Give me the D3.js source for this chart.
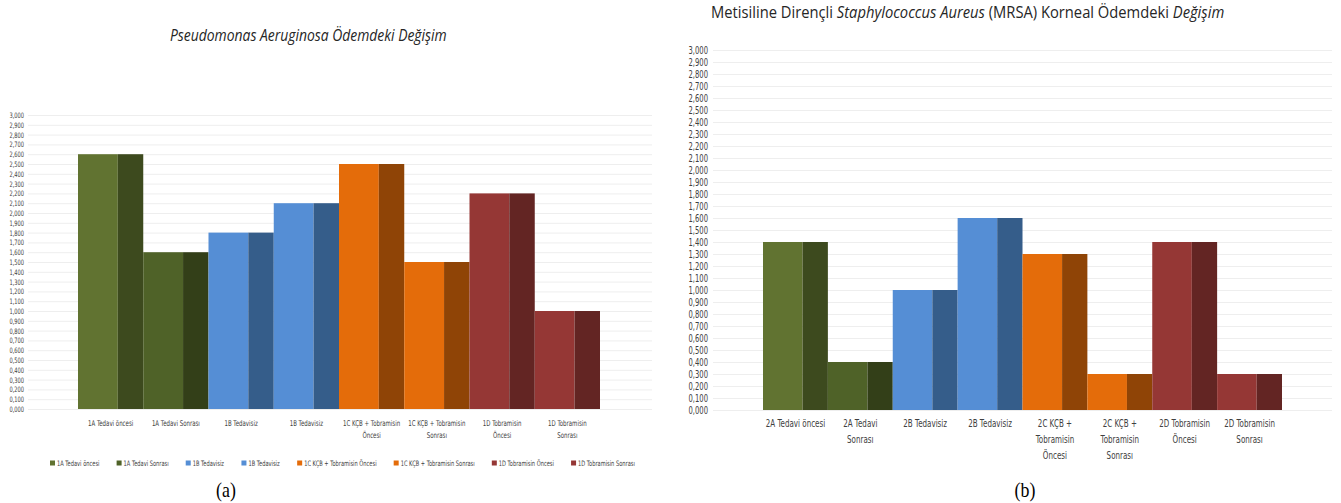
<!DOCTYPE html>
<html>
<head>
<meta charset="utf-8">
<script src="https://cdn.jsdelivr.net/npm/d3@7"></script>
<style>
  body { margin: 0; background: #fff; }
  svg { display: block; }
</style>
</head>
<body>
<svg id="chart"></svg>
<script>
// values (ödem, 0 - 3)
const leftCategories = [
  ['1A Tedavi öncesi'], ['1A Tedavi Sonrası'], ['1B Tedavisiz'], ['1B Tedavisiz'],
  ['1C KÇB + Tobramisin', 'Öncesi'], ['1C KÇB + Tobramisin', 'Sonrası'],
  ['1D Tobramisin', 'Öncesi'], ['1D Tobramisin', 'Sonrası']
];
const leftValues = [2.6, 1.6, 1.8, 2.1, 2.5, 1.5, 2.2, 1.0];
const leftLegend = [
  '1A Tedavi öncesi', '1A Tedavi Sonrası', '1B Tedavisiz', '1B Tedavisiz',
  '1C KÇB + Tobramisin Öncesi', '1C KÇB + Tobramisin Sonrası',
  '1D Tobramisin Öncesi', '1D Tobramisin Sonrası'
];

const rightCategories = [
  ['2A Tedavi öncesi'], ['2A Tedavi', 'Sonrası'], ['2B Tedavisiz'], ['2B Tedavisiz'],
  ['2C KÇB +', 'Tobramisin', 'Öncesi'], ['2C KÇB +', 'Tobramisin', 'Sonrası'],
  ['2D Tobramisin', 'Öncesi'], ['2D Tobramisin', 'Sonrası']
];
const rightValues = [1.4, 0.4, 1.0, 1.6, 1.3, 0.3, 1.4, 0.3];

const yTicks = d3.range(31).map((i) => i / 10);

const frontColors = ['#617331', '#4f6228', '#558ed5', '#558ed5', '#e46c0a', '#e46c0a', '#953735', '#953735'];
const sideColors = ['#3d4a1e', '#333f18', '#355d8a', '#355d8a', '#8f4406', '#8f4406', '#632523', '#632523'];

const width = 1341;
const height = 503;
const font = "'DejaVu Sans', sans-serif";
const squeeze = 0.68; // reference uses a narrow Calibri-like face

const svg = d3.select('#chart').attr('width', width).attr('height', height);
svg.append('rect').attr('width', width).attr('height', height).attr('fill', '#fff');

const fmt = (d) => d3.format('.3f')(d).replace('.', ',');

// horizontal squeeze around a given x
const scaleAt = (ax, k) => `translate(${ax},0) scale(${k},1) translate(${-ax},0)`;

function fitWidth(sel, target, anchorX) {
  const w = sel.node().getBBox().width;
  sel.attr('transform', scaleAt(anchorX, target / w));
}

function drawPanel(opt) {
  const g = svg.append('g');

  const y = d3.scaleLinear().domain([0, 3]).range([opt.y0, opt.y3]);
  const x = d3.scaleBand().domain(d3.range(opt.values.length)).range([opt.x0, opt.x1]).padding(0);

  // grid + y axis
  const axis = g.append('g')
    .attr('transform', `translate(${opt.gridX0},0)`)
    .call(d3.axisLeft(y).tickValues(yTicks).tickFormat(fmt)
      .tickSize(-(opt.gridX1 - opt.gridX0)).tickPadding(opt.tickPad));
  axis.select('.domain').remove();
  axis.selectAll('line').attr('stroke', '#eeeeee').attr('stroke-width', 1);
  axis.selectAll('text')
    .attr('font-family', font)
    .attr('font-size', opt.tickFont)
    .attr('fill', '#404040')
    .attr('transform', scaleAt(-opt.tickPad, squeeze));

  // front face and darker side face of each column
  const bars = g.selectAll('.bar').data(opt.values).enter().append('g');
  bars.append('rect')
    .attr('x', (d, i) => x(i))
    .attr('y', (d) => y(d))
    .attr('width', x.bandwidth() * 0.61)
    .attr('height', (d) => y(0) - y(d))
    .attr('fill', (d, i) => frontColors[i]);
  bars.append('rect')
    .attr('x', (d, i) => x(i) + x.bandwidth() * 0.61)
    .attr('y', (d) => y(d))
    .attr('width', x.bandwidth() * 0.39)
    .attr('height', (d) => y(0) - y(d))
    .attr('fill', (d, i) => sideColors[i]);

  // category labels
  opt.categories.forEach((lines, i) => {
    const cx = x(i) + x.bandwidth() / 2;
    const t = g.append('text')
      .attr('text-anchor', 'middle')
      .attr('font-family', font)
      .attr('font-size', opt.catFont)
      .attr('fill', '#404040')
      .attr('transform', scaleAt(cx, squeeze));
    lines.forEach((line, j) => {
      t.append('tspan')
        .attr('x', cx)
        .attr('y', opt.catY + j * opt.catLine)
        .text(line);
    });
  });
  return { x, y };
}

drawPanel({
  values: leftValues, categories: leftCategories,
  x0: 78, x1: 600, y0: 409, y3: 115,
  gridX0: 28, gridX1: 652, tickPad: 4, tickFont: 7.5,
  catY: 426, catLine: 12.5, catFont: 8
});

drawPanel({
  values: rightValues, categories: rightCategories,
  x0: 763, x1: 1282, y0: 410, y3: 50,
  gridX0: 713, gridX1: 1332, tickPad: 5, tickFont: 10,
  catY: 427, catLine: 16, catFont: 10.5
});

// left legend
const legend = svg.append('g').attr('font-family', font).attr('font-size', 7.5).attr('fill', '#404040');
const items = legend.selectAll('g').data(leftLegend).enter().append('g');
items.append('rect').attr('width', 5).attr('height', 5).attr('y', -5.5).attr('fill', (d, i) => frontColors[i]);
items.append('text').attr('x', 7).attr('y', 0).attr('transform', scaleAt(7, squeeze)).text((d) => d);
const widths = [];
items.each(function () { widths.push(this.getBBox().width); });
const legendW = 585;
const gap = (legendW - d3.sum(widths)) / (widths.length - 1);
let cursor = 50;
items.attr('transform', (d, i) => {
  const tx = cursor;
  cursor += widths[i] + gap;
  return `translate(${tx},466)`;
});

// titles
const leftTitle = svg.append('text')
  .attr('x', 170).attr('y', 41)
  .attr('font-family', "'Open Sans', sans-serif")
  .attr('font-style', 'italic')
  .attr('font-size', 17)
  .attr('fill', '#262626')
  .text('Pseudomonas Aeruginosa Ödemdeki Değişim');
fitWidth(leftTitle, 277, 170);

const rightTitle = svg.append('text')
  .attr('x', 711).attr('y', 18)
  .attr('font-family', "'Open Sans', sans-serif")
  .attr('font-size', 16.5)
  .attr('fill', '#262626');
[['Metisiline Dirençli ', false], ['Staphylococcus Aureus', true], [' (MRSA) Korneal Ödemdeki ', false], ['Değişim', true]]
  .forEach(([s, it]) => rightTitle.append('tspan').attr('font-style', it ? 'italic' : 'normal').text(s));
fitWidth(rightTitle, 514, 711);

// panel captions
[['(a)', 226], ['(b)', 1025]].forEach(([s, cx]) => {
  svg.append('text')
    .attr('x', cx).attr('y', 497)
    .attr('text-anchor', 'middle')
    .attr('font-family', "'Liberation Serif', serif")
    .attr('font-size', 21)
    .attr('fill', '#000')
    .attr('transform', scaleAt(cx, 0.85))
    .text(s);
});
</script>
</body>
</html>
